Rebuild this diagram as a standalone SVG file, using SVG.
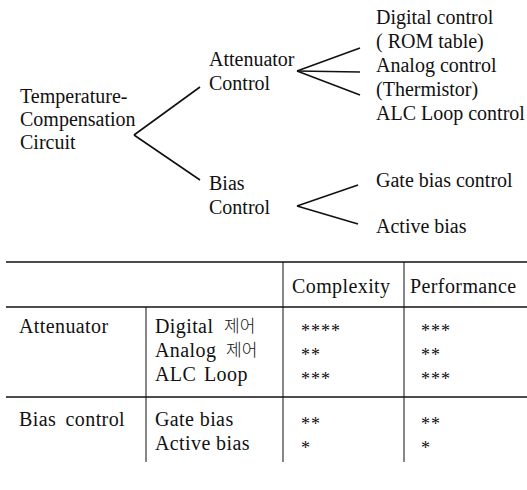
<svg xmlns="http://www.w3.org/2000/svg" width="527" height="490" viewBox="0 0 527 490">
  <style>
    text { font-family: "Liberation Serif", "Noto Sans CJK KR", serif; font-size: 20px; fill: #111; }
    .tbl { letter-spacing: 0.4px; }
    .wide { word-spacing: 4px; }
    .star { font-family: "Liberation Serif", serif; font-size: 18px; letter-spacing: 1px; }
    .kr { font-family: "Noto Sans CJK KR", sans-serif; font-size: 17px; font-weight: 300; }
    line { stroke: #111; stroke-width: 1.6; }
    .rule { stroke-width: 1.3; }
    .thin { stroke-width: 1; }
  </style>

  <!-- tree connectors -->
  <g id="connectors">
    <line x1="200" y1="87" x2="134" y2="135"/>
    <line x1="134" y1="135" x2="200" y2="180"/>
    <line x1="360" y1="48" x2="297" y2="71"/>
    <line x1="297" y1="71" x2="360" y2="72"/>
    <line x1="297" y1="71" x2="360" y2="95"/>
    <line x1="358" y1="185" x2="297" y2="206"/>
    <line x1="297" y1="206" x2="358" y2="224"/>
  </g>

  <g id="root">
    <text x="20" y="103">Temperature-</text>
    <text x="20" y="126">Compensation</text>
    <text x="20" y="149">Circuit</text>
  </g>
  <g id="attenuator">
    <text x="209" y="66">Attenuator</text>
    <text x="209" y="90">Control</text>
  </g>
  <g id="bias">
    <text x="209" y="190">Bias</text>
    <text x="209" y="214">Control</text>
  </g>
  <g id="att-options">
    <text x="376" y="24">Digital control</text>
    <text x="376" y="48">( ROM table)</text>
    <text x="376" y="72">Analog control</text>
    <text x="376" y="96">(Thermistor)</text>
    <text x="376" y="120">ALC Loop control</text>
  </g>
  <g id="bias-options">
    <text x="376" y="187">Gate bias control</text>
    <text x="376" y="233">Active bias</text>
  </g>

  <!-- comparison table -->
  <g id="table">
    <line class="rule" x1="6" y1="262" x2="527" y2="262"/>
    <line class="rule" x1="6" y1="307" x2="527" y2="307"/>
    <line class="rule" x1="6" y1="397" x2="527" y2="397"/>
    <line class="thin" x1="146" y1="307" x2="146" y2="462"/>
    <line class="thin" x1="283" y1="262" x2="283" y2="462"/>
    <line class="thin" x1="404" y1="262" x2="404" y2="462"/>

    <text class="tbl" x="292" y="293">Complexity</text>
    <text class="tbl" x="410" y="293">Performance</text>

    <text class="tbl" x="19" y="333">Attenuator</text>
    <text class="tbl" x="155" y="333">Digital</text>
    <text class="kr" x="224" y="332">제어</text>
    <text class="tbl" x="155" y="357">Analog</text>
    <text class="kr" x="226" y="356">제어</text>
    <text class="tbl" x="155" y="381">ALC</text>
    <text class="tbl" x="204" y="381">Loop</text>
    <text class="star" x="301" y="337">****</text>
    <text class="star" x="301" y="361">**</text>
    <text class="star" x="301" y="385">***</text>
    <text class="star" x="421" y="337">***</text>
    <text class="star" x="421" y="361">**</text>
    <text class="star" x="421" y="385">***</text>

    <text class="tbl wide" x="19" y="426">Bias control</text>
    <text class="tbl" x="155" y="426">Gate bias</text>
    <text class="tbl" x="155" y="450">Active bias</text>
    <text class="star" x="301" y="430">**</text>
    <text class="star" x="301" y="454">*</text>
    <text class="star" x="421" y="430">**</text>
    <text class="star" x="421" y="454">*</text>
  </g>
</svg>
